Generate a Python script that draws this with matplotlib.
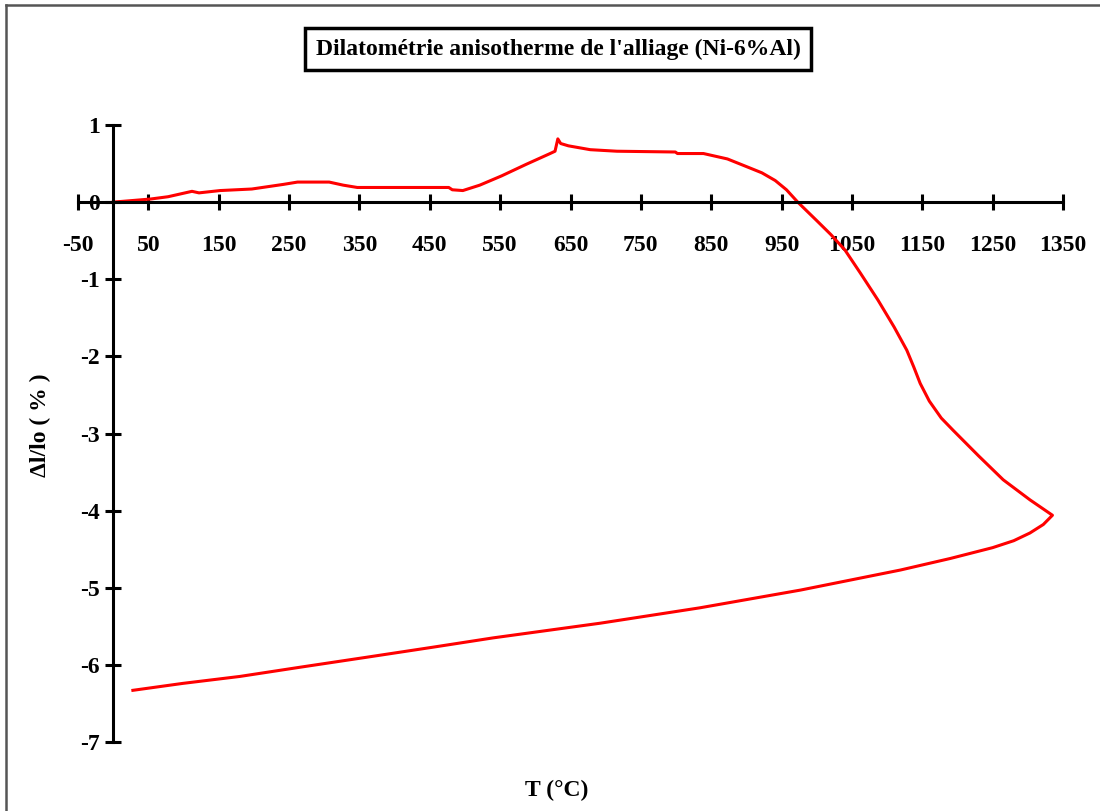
import numpy as np
import matplotlib
matplotlib.use("Agg")
import matplotlib.pyplot as plt
from matplotlib.lines import Line2D

# Heating branch: temperature (°C) and relative elongation (%)
heat_T = [0, 53, 78, 112, 122, 152, 197, 242, 262, 307, 327, 347, 410, 477,
          482, 497, 521, 552, 587, 621, 628, 632, 636, 647, 678, 716, 799,
          802, 839, 873, 903, 922, 941, 957, 973, 1000, 1020, 1040, 1062,
          1087, 1110, 1128, 1138, 1147, 1160, 1177, 1194, 1230, 1265, 1303,
          1335]
heat_dl = [0.00, 0.04, 0.07, 0.14, 0.12, 0.15, 0.17, 0.23, 0.26, 0.26, 0.22,
           0.19, 0.19, 0.19, 0.16, 0.15, 0.22, 0.34, 0.49, 0.63, 0.66, 0.82,
           0.76, 0.73, 0.68, 0.66, 0.65, 0.63, 0.63, 0.56, 0.45, 0.38, 0.28,
           0.16, 0.00, -0.24, -0.42, -0.62, -0.92, -1.27, -1.62, -1.92,
           -2.14, -2.35, -2.58, -2.80, -2.96, -3.29, -3.60, -3.86, -4.06]

# Cooling branch
cool_T = [1335, 1322, 1303, 1280, 1250, 1190, 1119, 977, 834, 692, 540, 455,
          361, 266, 180, 99, 28]
cool_dl = [-4.06, -4.18, -4.29, -4.39, -4.48, -4.62, -4.77, -5.03, -5.26,
           -5.46, -5.65, -5.77, -5.90, -6.03, -6.15, -6.24, -6.33]

x_ticks = list(range(-50, 1351, 100))
y_ticks = list(range(-7, 2))

plt.rcParams["font.family"] = ["Liberation Serif", "DejaVu Serif"]
plt.rcParams["font.weight"] = "bold"

fig = plt.figure(figsize=(11, 8.11), dpi=100)
ax = fig.add_axes([78 / 1100, 1 - 742 / 811, (1063 - 78) / 1100, (742 - 125) / 811])

T = heat_T + cool_T[1:]
dl = heat_dl + cool_dl[1:]
ax.plot(T, dl, color="#ff0000", linewidth=2.2, solid_joinstyle="round")

ax.set_xlim(-50, 1350)
ax.set_ylim(-7, 1)
ax.spines["top"].set_visible(False)
ax.spines["right"].set_visible(False)
ax.spines["left"].set_position(("data", 0))
ax.spines["bottom"].set_position(("data", 0))
for s in ("left", "bottom"):
    ax.spines[s].set_linewidth(2.2)
ax.set_xticks(x_ticks)
ax.set_yticks(y_ticks)
ax.set_xticklabels([str(v) for v in x_ticks], fontsize=17, fontweight="bold")
ax.set_yticklabels([str(v) for v in y_ticks], fontsize=17, fontweight="bold")
ax.tick_params(axis="x", direction="inout", length=11, width=2.2, pad=18)
ax.tick_params(axis="y", direction="inout", length=11, width=2.2, pad=4)

fig.text(40 / 1100, 1 - 425 / 811, "Δl/lo ( % )", rotation=90, ha="center",
         va="center", fontsize=17, fontweight="bold")
fig.text(557 / 1100, 1 - 790 / 811, "T (°C)", ha="center", va="center",
         fontsize=17, fontweight="bold")
fig.text(558 / 1100, 1 - 49 / 811, "Dilatométrie anisotherme de l'alliage (Ni-6%Al)",
         ha="center", va="center", fontsize=17, fontweight="bold",
         bbox=dict(boxstyle="square,pad=0.45", facecolor="white",
                   edgecolor="black", linewidth=2.5))

# chart frame (left and top edges)
fig.add_artist(Line2D([6 / 1100, 6 / 1100], [0, 1 - 5 / 811],
                      transform=fig.transFigure, color="#555555", linewidth=1.8))
fig.add_artist(Line2D([6 / 1100, 1], [1 - 5 / 811, 1 - 5 / 811],
                      transform=fig.transFigure, color="#555555", linewidth=1.8))

fig.savefig("out.png", dpi=100)
